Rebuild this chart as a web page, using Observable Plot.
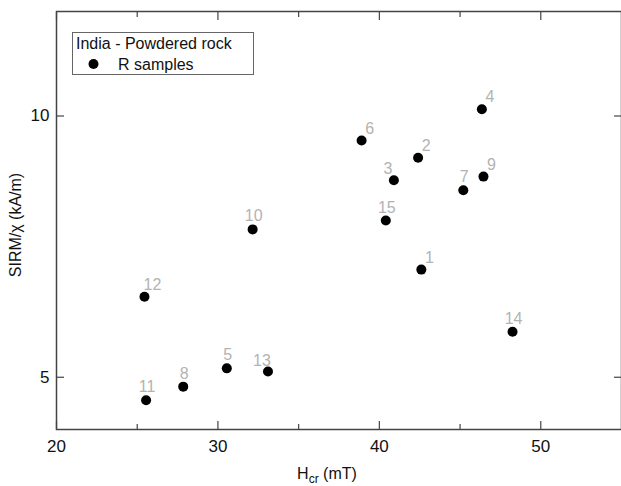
<!DOCTYPE html>
<html><head><meta charset="utf-8">
<script src="https://cdn.jsdelivr.net/npm/d3@7"></script>
<script src="https://cdn.jsdelivr.net/npm/@observablehq/plot@0.6"></script>
<style>
body{margin:0;background:#fff}
#chart{position:relative;width:621px;height:486px;overflow:hidden}
</style>
</head><body><div id="chart"></div>
<script>
// ---- data ----
const sampleIds = [1, 2, 3, 4, 5, 6, 7, 8, 9, 10, 11, 12, 13, 14, 15];
const hcr      = [42.6, 42.4, 40.9, 46.35, 30.55, 38.9, 45.2, 27.85, 46.45, 32.15, 25.55, 25.45, 33.1, 48.25, 40.4];
const sirmChi  = [7.06, 9.20, 8.77, 10.13, 5.17, 9.53, 8.58, 4.82, 8.84, 7.83, 4.56, 6.54, 5.11, 5.87, 8.0];
const xMajorTicks = [20, 30, 40, 50];
const xMinorTicks = [25, 35, 45];
const yTicks = [5, 10];
const legendTitle = "India - Powdered rock";
const seriesName = "R samples";
const yLabel = "SIRM/χ (kA/m)";

// label placement groups
const labelsRight = [1, 2, 4, 6, 9, 12];
const labelsLeft = [3, 13];

const data = sampleIds.map((id, i) => ({
  id, x: hcr[i], y: sirmChi[i],
  side: labelsRight.includes(id) ? "r" : labelsLeft.includes(id) ? "l" : "c"
}));

const font = "'Liberation Sans', Arial, sans-serif";
const axisColor = "#444";
const noText = () => "";

const plot = Plot.plot({
  width: 621,
  height: 486,
  marginLeft: 56,
  marginRight: 0,
  marginTop: 11,
  marginBottom: 57,
  style: {fontFamily: font, fontSize: "17px", color: "#111", background: "#fff"},
  x: {domain: [20, 55]},
  y: {domain: [4, 12]},
  marks: [
    Plot.frame({stroke: axisColor, strokeWidth: 1.5}),
    // bottom axis labels
    Plot.axisX({anchor: "bottom", ticks: xMajorTicks, tickSize: 0, tickPadding: 10, label: null, fill: "#111"}),
    // inward ticks
    Plot.axisX({anchor: "bottom", ticks: xMajorTicks, tickSize: -8, tickFormat: noText, label: null, stroke: axisColor, strokeWidth: 1.2}),
    Plot.axisX({anchor: "bottom", ticks: xMinorTicks, tickSize: -5, tickFormat: noText, label: null, stroke: axisColor, strokeWidth: 1.2}),
    Plot.axisX({anchor: "top", ticks: xMajorTicks, tickSize: -8, tickFormat: noText, label: null, stroke: axisColor, strokeWidth: 1.2}),
    Plot.axisX({anchor: "top", ticks: xMinorTicks, tickSize: -5, tickFormat: noText, label: null, stroke: axisColor, strokeWidth: 1.2}),
    Plot.axisY({anchor: "left", ticks: yTicks, tickSize: 0, tickPadding: 7, label: null, fill: "#111"}),
    Plot.axisY({anchor: "left", ticks: yTicks, tickSize: -8, tickFormat: noText, label: null, stroke: axisColor, strokeWidth: 1.2}),
    Plot.axisY({anchor: "right", ticks: yTicks, tickSize: -8, tickFormat: noText, label: null, stroke: axisColor, strokeWidth: 1.2}),
    Plot.dot(data, {x: "x", y: "y", r: 5, fill: "#000", stroke: "none"}),
    Plot.text(data.filter(d => d.side === "c"), {x: "x", y: "y", text: "id", dx: 1, dy: -8, lineAnchor: "bottom", fill: "#b3b3b3", fontSize: 16}),
    Plot.text(data.filter(d => d.side === "r"), {x: "x", y: "y", text: "id", dx: 8, dy: -7, lineAnchor: "bottom", fill: "#b3b3b3", fontSize: 16}),
    Plot.text(data.filter(d => d.side === "l"), {x: "x", y: "y", text: "id", dx: -6, dy: -6, lineAnchor: "bottom", fill: "#b3b3b3", fontSize: 16})
  ]
});

document.getElementById("chart").appendChild(plot);

const svg = d3.select(plot);

// x axis label with subscript
const xl = svg.append("text")
  .attr("x", 327).attr("y", 479)
  .attr("text-anchor", "middle")
  .attr("font-family", font).attr("font-size", 16).attr("fill", "#111");
xl.append("tspan").text("H");
xl.append("tspan").attr("dy", 4).attr("font-size", 12).text("cr");
xl.append("tspan").attr("dy", -4).text(" (mT)");

// y axis label
svg.append("text")
  .attr("transform", "translate(21,225) rotate(-90)")
  .attr("text-anchor", "middle")
  .attr("font-family", font).attr("font-size", 16).attr("fill", "#111")
  .text(yLabel);

// legend
const lg = svg.append("g");
lg.append("rect").attr("x", 72.5).attr("y", 32.5).attr("width", 181).attr("height", 42)
  .attr("fill", "#fff").attr("stroke", "#666").attr("stroke-width", 1);
lg.append("text").attr("x", 76).attr("y", 48.5).attr("text-anchor", "start")
  .attr("font-family", font).attr("font-size", 16).attr("fill", "#111").text(legendTitle);
lg.append("circle").attr("cx", 93.5).attr("cy", 64).attr("r", 5).attr("fill", "#000");
lg.append("text").attr("x", 118).attr("y", 69.5).attr("text-anchor", "start")
  .attr("font-family", font).attr("font-size", 16).attr("fill", "#111").text(seriesName);
</script>
</body></html>
